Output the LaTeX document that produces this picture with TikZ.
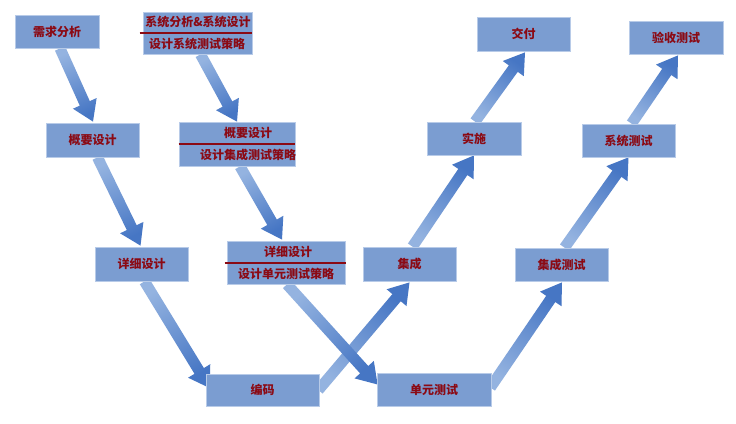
\documentclass[tikz,border=0pt]{standalone}
\usepackage{fontspec}
\setmainfont{Noto Sans CJK SC}
\usetikzlibrary{calc,backgrounds}
\definecolor{boxfill}{HTML}{7B9DD1}
\definecolor{boxline}{HTML}{B8CBE8}
\definecolor{txt}{HTML}{8B0A14}
\definecolor{arlight}{HTML}{94B3E0}
\definecolor{ardark}{HTML}{4676C4}
\newcommand\bigarrow[2]{%
  \pgfmathanglebetweenpoints{\pgfpointanchor{#1}{center}}{\pgfpointanchor{#2}{center}}%
  \pgfmathsetmacro\arang{\pgfmathresult+90}%
  \coordinate (#1h) at ($(#2)!20pt!(#1)$);
  \shade[left color=arlight, right color=ardark, shading angle=\arang]
    ($(#1)!5.5pt!90:(#2)$) -- ($(#1h)!5.5pt!90:(#2)$) -- ($(#1h)!13pt!90:(#2)$) -- (#2)
    -- ($(#1h)!13pt!-90:(#2)$) -- ($(#1h)!5.5pt!-90:(#2)$) -- ($(#1)!5.5pt!-90:(#2)$) -- cycle;
}
\begin{document}
\begin{tikzpicture}[x=1pt,y=-1pt,
  stagebox/.style={draw=boxline, line width=0.8pt, fill=boxfill, inner sep=0pt,
    text=txt, font=\fontsize{12}{14}\selectfont\bfseries},
  lbl/.style={text=txt, font=\fontsize{12}{14}\selectfont\bfseries, inner sep=0pt},
  divider/.style={draw=txt, line width=1.2pt}]
\useasboundingbox (0,0) rectangle (736,423);
% boxes
\node[stagebox, minimum width=84pt, minimum height=33pt] (req) at (57,31.5) {需求分析};
\node[stagebox, minimum width=109pt, minimum height=42pt] (sys) at (197.5,33) {};
\node[stagebox, minimum width=93pt, minimum height=34pt] (gaiyao) at (92.5,140) {概要设计};
\node[stagebox, minimum width=116pt, minimum height=44pt] (gaiyao2) at (237,144) {};
\node[stagebox, minimum width=93pt, minimum height=34pt] (xiangxi) at (141.5,264) {详细设计};
\node[stagebox, minimum width=118pt, minimum height=43pt] (xiangxi2) at (286,262.5) {};
\node[stagebox, minimum width=93pt, minimum height=34pt] (jicheng) at (409.5,264) {集成};
\node[stagebox, minimum width=113pt, minimum height=32pt] (bianma) at (262.5,390) {编码};
\node[stagebox, minimum width=114pt, minimum height=33pt] (danyuan) at (434,389.5) {单元测试};
\node[stagebox, minimum width=93pt, minimum height=34pt] (jiaofu) at (523.5,34) {交付};
\node[stagebox, minimum width=94pt, minimum height=33pt] (yanshou) at (676,37.5) {验收测试};
\node[stagebox, minimum width=94pt, minimum height=33pt] (shishi) at (474,138.5) {实施};
\node[stagebox, minimum width=93pt, minimum height=33pt] (xitong) at (628.5,140.5) {系统测试};
\node[stagebox, minimum width=93pt, minimum height=33pt] (jcs) at (561.5,264.5) {集成测试};
% two-line box texts and dividers
\node[lbl] (sysA) at (198,22) {系统分析\&系统设计};
\node[lbl] (sysB) at (197,43.5) {设计系统测试策略};
\coordinate (sysL) at ($(sys.west)+(-3,0)$);
\draw[divider] (sysL) -- (sys.east);
\node[lbl] (gy2A) at (248,133) {概要设计};
\node[lbl] (gy2B) at (248,154.5) {设计集成测试策略};
\draw[divider] (gaiyao2.west) -- (gaiyao2.east);
\node[lbl] (xx2A) at (288,252) {详细设计};
\node[lbl] (xx2B) at (286,273.5) {设计单元测试策略};
\coordinate (xx2L) at ($(xiangxi2.west)+(-2,0.5)$);
\coordinate (xx2R) at ($(xiangxi2.east)+(1,0.5)$);
\draw[divider] (xx2L) -- (xx2R);
% arrow end points
\coordinate (t1) at ($(req.south)+(3,0)$);      \coordinate (h1) at ($(gaiyao.north)+(0.5,-1)$);
\coordinate (t2) at ($(sys.south)+(3,0)$);      \coordinate (h2) at ($(gaiyao2.north)+(0,0)$);
\coordinate (t3) at ($(gaiyao.south)+(5,0)$);   \coordinate (h3) at ($(xiangxi.north)+(-1,-1)$);
\coordinate (t4) at ($(gaiyao2.south)+(3,0)$);  \coordinate (h4) at ($(xiangxi2.north)+(-4,-1)$);
\coordinate (t5) at ($(xiangxi.south)+(3,0)$);  \coordinate (h5) at ($(bianma.west)+(4,-2)$);
\coordinate (t6) at ($(xiangxi2.south)+(1,0)$); \coordinate (h6) at ($(danyuan.west)+(1,-5)$);
\coordinate (t7) at ($(bianma.east)+(-1,0)$);   \coordinate (h7) at ($(jicheng.south)+(0,1)$);
\coordinate (t8) at ($(danyuan.east)+(-1,-2)$); \coordinate (h8) at ($(jcs.south)+(0.5,1)$);
\coordinate (t9) at ($(jicheng.north)+(3,0)$);  \coordinate (h9) at (shishi.south);
\coordinate (t10) at ($(shishi.north)+(1,0)$);  \coordinate (h10) at ($(jiaofu.south)+(1.5,1)$);
\coordinate (t11) at ($(jcs.north)+(3,0)$);     \coordinate (h11) at (xitong.south);
\coordinate (t12) at ($(xitong.north)+(3,0)$);  \coordinate (h12) at ($(yanshou.south)+(2,1)$);
\begin{pgfonlayer}{background}
  \fill[white] (0,0) rectangle (736,423);
  \bigarrow{t1}{h1}
  \bigarrow{t2}{h2}
  \bigarrow{t3}{h3}
  \bigarrow{t4}{h4}
  \bigarrow{t5}{h5}
  \bigarrow{t7}{h7}
  \bigarrow{t6}{h6}
  \bigarrow{t8}{h8}
  \bigarrow{t9}{h9}
  \bigarrow{t10}{h10}
  \bigarrow{t11}{h11}
  \bigarrow{t12}{h12}
\end{pgfonlayer}
\end{tikzpicture}
\end{document}
